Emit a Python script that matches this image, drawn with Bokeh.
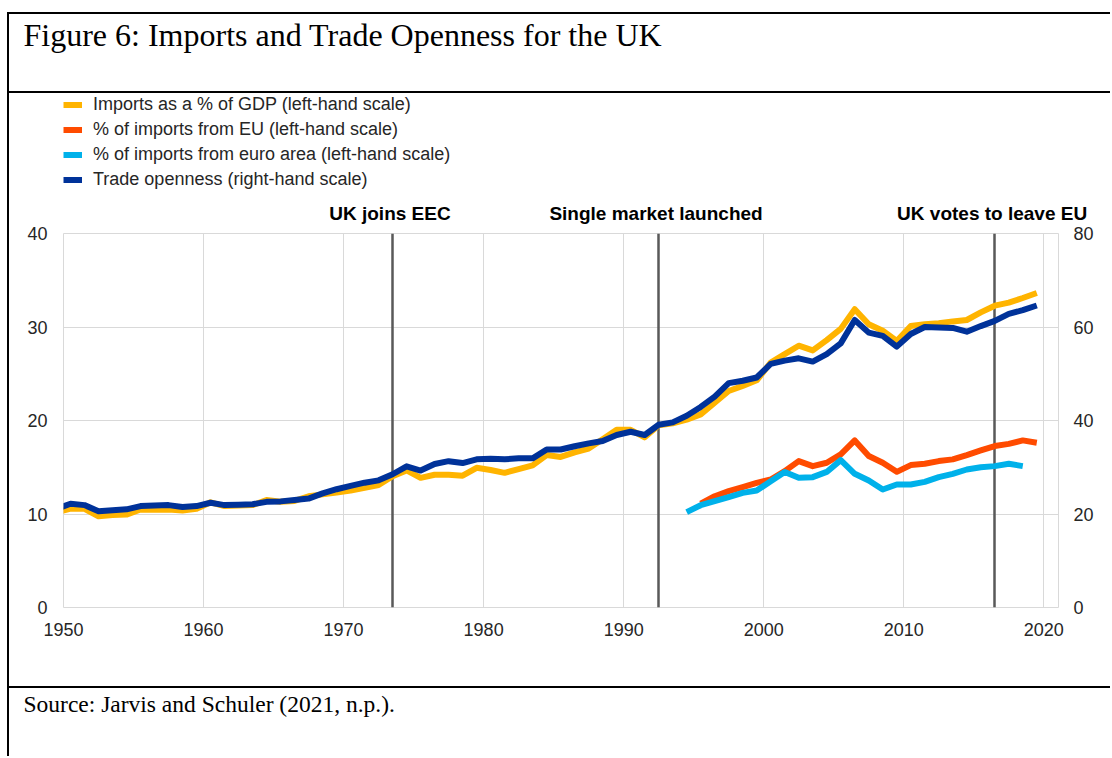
from bokeh.plotting import figure
from bokeh.models import (Range1d, LinearAxis, FixedTicker, Legend, LegendItem,
                          Title, Div)
from bokeh.layouts import row, column
from bokeh.embed import file_html
from bokeh.resources import INLINE
from bokeh.core.validation import silence
from bokeh.core.validation.warnings import MISSING_RENDERERS

silence(MISSING_RENDERERS, True)

# ---------------- data ----------------
years = list(range(1949, 2020))
imports_gdp = [10.15, 10.58, 10.55, 9.76, 9.9, 9.94, 10.48, 10.45, 10.48, 10.37,
               10.55, 11.25, 10.85, 10.9, 10.95, 11.5, 11.3, 11.4, 11.9, 12.1,
               12.3, 12.5, 12.8, 13.1, 14.05, 14.66, 13.87, 14.2, 14.2, 14.1,
               14.94, 14.7, 14.4, 14.8, 15.2, 16.3, 16.1, 16.6, 17.0, 18.0,
               19.0, 19.0, 18.2, 19.5, 19.7, 20.1, 20.66, 21.9, 23.16, 23.7,
               24.3, 26.2, 27.1, 28.0, 27.5, 28.6, 29.8, 31.9, 30.3, 29.6,
               28.5, 30.1, 30.3, 30.4, 30.6, 30.75, 31.56, 32.28, 32.6, 33.1,
               33.64]
trade_openness = [21.1, 22.2, 21.9, 20.6, 20.8, 21.0, 21.7, 21.8, 21.9, 21.5,
                  21.7, 22.4, 21.9, 22.0, 22.1, 22.6, 22.7, 23.0, 23.3, 24.4,
                  25.3, 26.0, 26.7, 27.2, 28.5, 30.2, 29.3, 30.7, 31.3, 30.9,
                  31.7, 31.8, 31.7, 31.9, 31.9, 33.8, 33.8, 34.5, 35.1, 35.6,
                  36.9, 37.6, 36.9, 39.1, 39.6, 41.0, 42.9, 45.1, 48.0, 48.5,
                  49.2, 52.1, 52.8, 53.3, 52.6, 54.2, 56.5, 61.5, 58.8, 58.1,
                  55.8, 58.5, 60.0, 59.9, 59.8, 59.0, 60.2, 61.3, 62.8, 63.6,
                  64.6]
eu_years = list(range(1995, 2020))
imports_eu = [11.1, 11.9, 12.44, 12.87, 13.33, 13.69, 14.58, 15.66, 15.12, 15.48,
              16.37, 17.87, 16.2, 15.48, 14.51, 15.23, 15.37, 15.66, 15.84, 16.3,
              16.8, 17.27, 17.5, 17.87, 17.62]
ea_years = list(range(1994, 2019))
imports_ea = [10.2, 10.94, 11.37, 11.8, 12.26, 12.51, 13.5, 14.5, 13.87, 13.94,
              14.5, 15.76, 14.3, 13.59, 12.62, 13.16, 13.16, 13.44, 13.94, 14.3,
              14.76, 15.0, 15.12, 15.37, 15.12]
event_years = [1973, 1992, 2016]
event_labels = ["UK  joins EEC", "Single  market launched", "UK votes to  leave EU"]
series_labels = ["Imports as a % of GDP (left-hand scale)",
                 "% of imports from EU (left-hand scale)",
                 "% of imports from euro area (left-hand scale)",
                 "Trade openness (right-hand scale)"]
x_ticks = [1950, 1960, 1970, 1980, 1990, 2000, 2010, 2020]
left_ticks = [0, 10, 20, 30, 40]
right_ticks = [0, 20, 40, 60, 80]
TITLE = "Figure 6: Imports and Trade Openness for the UK"
SOURCE = "Source: Jarvis and Schuler (2021, n.p.)."

# ---------------- style ----------------
MID = 0.5  # annual values are plotted at mid-year
W = 1101
BL, BR = 54, 52
SANS = "Liberation Sans"
SERIF = "Liberation Serif"
TICK_COLOR = "#262626"
GRID = "#d9d9d9"
COLORS = ["#FFB400", "#FF4B00", "#00B1EA", "#003299"]
LINE = dict(line_width=6, line_join="round", line_cap="butt")

series = [(years, imports_gdp), (eu_years, imports_eu), (ea_years, imports_ea),
          (years, trade_openness)]


def mid(v):
    return [y + MID for y in v]


def blank_fig(height, **kw):
    f = figure(width=W, height=height, x_range=Range1d(0, 1), y_range=Range1d(0, 1),
               output_backend="svg", toolbar_location=None,
               min_border_left=BL, min_border_right=BR, min_border_top=0,
               min_border_bottom=0, x_axis_location=None, y_axis_location=None, **kw)
    f.outline_line_color = None
    f.grid.visible = False
    return f


# ---------------- chart ----------------
p = figure(width=W, height=496, x_range=Range1d(1950, 2021.05), y_range=Range1d(0, 40),
           output_backend="svg", toolbar_location=None,
           min_border_left=BL, min_border_right=BR, min_border_top=43, min_border_bottom=79)
p.extra_y_ranges = {"right": Range1d(0, 80)}
p.outline_line_color = GRID
p.outline_line_width = 1

p.xaxis.ticker = FixedTicker(ticks=x_ticks)
p.yaxis.ticker = FixedTicker(ticks=left_ticks)
p.xaxis.major_label_standoff = 15
p.yaxis.major_label_standoff = 16

right_axis = LinearAxis(y_range_name="right", ticker=FixedTicker(ticks=right_ticks))
right_axis.major_label_standoff = 15
p.add_layout(right_axis, "right")

ev_x = mid(event_years)
ev_axis = LinearAxis(ticker=FixedTicker(ticks=ev_x),
                     major_label_overrides={x: t for x, t in zip(ev_x, event_labels)})
ev_axis.major_label_standoff = 10
p.add_layout(ev_axis, "above")

for ax in p.axis:
    ax.axis_line_color = None
    ax.major_tick_line_color = None
    ax.minor_tick_line_color = None
    ax.major_tick_out = 0
    ax.major_tick_in = 0
    ax.major_label_text_font = SANS
    ax.major_label_text_font_size = "18px"
    ax.major_label_text_color = TICK_COLOR
ev_axis.major_label_text_font_style = "bold"
ev_axis.major_label_text_font_size = "19px"
ev_axis.major_label_text_color = "black"

p.xgrid.ticker = FixedTicker(ticks=x_ticks)
p.ygrid.ticker = FixedTicker(ticks=left_ticks)
p.grid.grid_line_color = GRID
p.grid.grid_line_width = 1

# event lines
p.vspan(x=ev_x, line_color="#595959", line_width=2.5)

for i, ((xs, ys), col) in enumerate(zip(series, COLORS)):
    extra = {"y_range_name": "right"} if i == 3 else {}
    p.line(mid(xs), ys, line_color=col, **LINE, **extra)

# ---------------- legend (own strip above the chart) ----------------
# the strip's ranges keep its copies of the series out of view; only the
# legend swatches they produce are seen
lf = blank_fig(97)
items = []
for lab, (xs, ys), col in zip(series_labels, series, COLORS):
    r = lf.line(mid(xs), ys, line_color=col, **LINE)
    items.append(LegendItem(label=lab, renderers=[r]))
legend = Legend(items=items, location=(0, 0), orientation="vertical", padding=0,
                margin=0, spacing=4, glyph_width=19, glyph_height=21, label_height=21,
                label_standoff=11, label_text_font=SANS, label_text_font_size="18px",
                label_text_color=TICK_COLOR, background_fill_alpha=0,
                border_line_alpha=0)
lf.add_layout(legend, "center")

# ---------------- header / source ----------------
def text_fig(height, text, size):
    f = blank_fig(height)
    f.add_layout(Title(text=text, text_font=SERIF, text_font_size=size,
                       text_font_style="normal", text_color="black", align="left",
                       offset=-40, standoff=0), "above")
    return f


header = text_fig(77, TITLE, "32px")
source = text_fig(68, SOURCE, "23.5px")


def bar(w, h, color=None):
    styles = {"background-color": color} if color else {}
    return Div(width=w, height=h, margin=0, styles=styles)


right_col = column(bar(W, 12), bar(W, 2, "black"), header, bar(W, 2, "black"), lf, p,
                   bar(W, 2, "black"), source, spacing=0)
left_col = column(bar(2, 12), bar(2, 744, "black"), spacing=0)
layout = row(bar(7, 756), left_col, right_col, spacing=0)

open("out.html", "w").write(file_html(layout, INLINE))
